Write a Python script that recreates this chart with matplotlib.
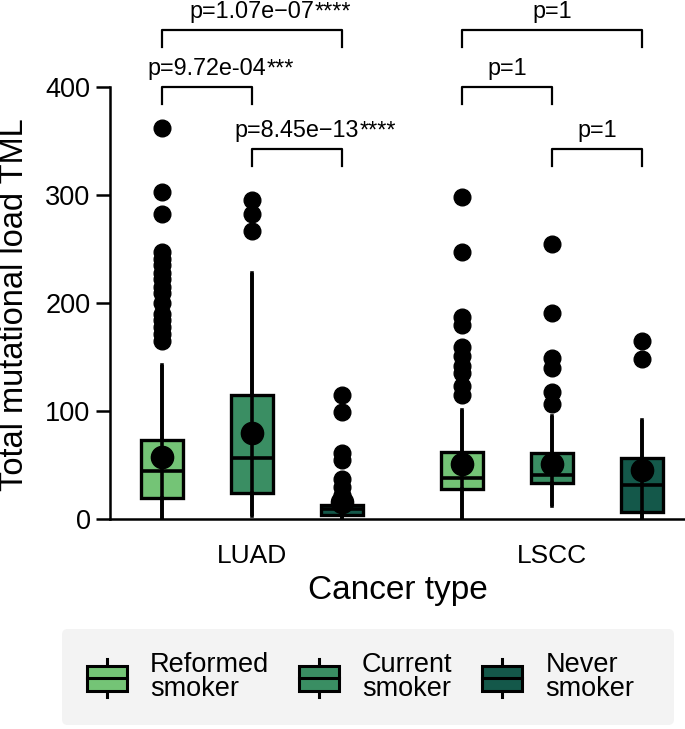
import matplotlib
matplotlib.use("Agg")
import matplotlib.pyplot as plt
from matplotlib.patches import Patch, Rectangle, FancyBboxPatch
from matplotlib.lines import Line2D
from matplotlib.legend_handler import HandlerBase

plt.rcParams['font.family'] = ['Liberation Sans', 'DejaVu Sans']

# data
cancer_types = ["LUAD", "LSCC"]
smoking = ["Reformed\nsmoker", "Current\nsmoker", "Never\nsmoker"]
colors = ["#74c476", "#3a8e63", "#14584a"]

# box stats, one row per cancer type, one entry per smoking group
whis_lo = [[0, 3, 0], [0, 12, 0]]
q1 = [[19, 24, 4], [28, 33, 6]]
med = [[44, 56, 9], [38, 41, 31]]
q3 = [[73, 115, 13], [62, 61, 56]]
whis_hi = [[143, 228, 27], [101, 95, 92]]
means = [[57, 80, 16], [51, 51, 45]]
fliers = [
    [[362, 303, 282, 247, 241, 235, 228, 222, 215, 209, 200, 190, 184, 178, 171, 165],
     [295, 282, 267],
     [115, 99, 61, 55, 37, 30, 22]],
    [[298, 247, 187, 180, 159, 151, 142, 135, 123, 115],
     [255, 191, 149, 140, 118, 106],
     [165, 148]],
]

# comparisons: (cancer idx, group a, group b, bracket height, p text, stars)
comparisons = [
    (0, 0, 1, 400, "p=9.72e-04", "***"),
    (0, 1, 2, 343, "p=8.45e\u221213", "****"),
    (0, 0, 2, 453, "p=1.07e\u221207", "****"),
    (1, 0, 1, 400, "p=1", ""),
    (1, 1, 2, 343, "p=1", ""),
    (1, 0, 2, 453, "p=1", ""),
]

offsets = [-0.3, 0.0, 0.3]


class BoxIconHandler(HandlerBase):
    def create_artists(self, legend, orig_handle, xdescent, ydescent,
                       width, height, fontsize, trans):
        fc = orig_handle.get_facecolor()
        bw, bh = width, height * 0.64
        x0 = -xdescent
        y0 = (height - bh) / 2 - ydescent
        cx = x0 + bw / 2
        whisk = Line2D([cx, cx], [-ydescent, height - ydescent], color="black",
                       lw=2.2, transform=trans)
        box = Rectangle((x0, y0), bw, bh, facecolor=fc, edgecolor="black",
                        lw=2.2, transform=trans)
        mline = Line2D([x0, x0 + bw], [y0 + bh / 2] * 2, color="black",
                       lw=2.2, transform=trans)
        return [whisk, box, mline]


fig = plt.figure(figsize=(6.85, 7.29), dpi=100)
ax = fig.add_axes([0.1606, 0.2881, 0.8394, 0.7119])

for ci in range(len(cancer_types)):
    for si in range(len(smoking)):
        pos = ci + offsets[si]
        st = dict(whislo=whis_lo[ci][si], q1=q1[ci][si], med=med[ci][si],
                  q3=q3[ci][si], whishi=whis_hi[ci][si], mean=means[ci][si],
                  fliers=fliers[ci][si])
        ax.bxp([st], positions=[pos], widths=0.138, patch_artist=True,
               showmeans=True, showcaps=False,
               boxprops=dict(facecolor=colors[si], edgecolor="black", lw=2.4),
               medianprops=dict(color="black", lw=2.6),
               whiskerprops=dict(color="black", lw=2.6),
               meanprops=dict(marker="o", markerfacecolor="black",
                              markeredgecolor="black", markersize=16),
               flierprops=dict(marker="o", markerfacecolor="black",
                               markeredgecolor="black", markersize=12))
        # whisker line runs through the box
        ax.vlines(pos, whis_lo[ci][si], whis_hi[ci][si], color="black",
                  lw=2.6, zorder=2.5)

for ci, a, b, y, ptxt, stars in comparisons:
    xa, xb = ci + offsets[a], ci + offsets[b]
    ax.plot([xa, xa, xb, xb], [y - 16, y, y, y - 16], color="black", lw=1.6,
            clip_on=False)
    t = ax.text((xa + xb) / 2, y + 6, ptxt, ha="center", va="bottom",
                fontsize=16.8)
    if stars:
        ax.annotate(stars, xy=(1, 0), xycoords=t, ha="left", va="bottom",
                    fontsize=16.8)

ax.set_xlim(-0.473, 1.443)
ax.set_ylim(0, 480.5)
ax.set_yticks([0, 100, 200, 300, 400])
ax.set_xticks(range(len(cancer_types)))
ax.set_xticklabels(cancer_types)
ax.tick_params(axis="y", labelsize=19.5, width=1.8, length=10, pad=4)
ax.tick_params(axis="x", labelsize=19, length=0, pad=18)
for s in ["top", "right"]:
    ax.spines[s].set_visible(False)
ax.spines["left"].set_bounds(0, 400)
ax.spines["left"].set_linewidth(1.8)
ax.spines["bottom"].set_linewidth(1.8)
ax.set_xlabel("Cancer type", fontsize=24, labelpad=5)
fig.text(15 / 685, 1 - 305 / 729, "Total mutational load TML", rotation=90,
         ha="center", va="center", fontsize=23.5)

# legend background panel
panel = FancyBboxPatch((62 / 685, 1 - 725 / 729), (674 - 62) / 685,
                       (725 - 629) / 729, boxstyle="round,pad=0,rounding_size=0.008",
                       transform=fig.transFigure, facecolor="#f3f3f3",
                       edgecolor="none", zorder=0)
fig.patches.append(panel)

handles = [Patch(facecolor=c) for c in colors]
leg = fig.legend(handles, smoking, loc="upper left",
                 bbox_to_anchor=(86.7 / 685, 1 - 652 / 729), borderaxespad=0,
                 borderpad=0, ncol=3, fontsize=19.5, frameon=False,
                 handlelength=1.48, handleheight=1.8, handletextpad=0.85,
                 columnspacing=1.1,
                 handler_map={Patch: BoxIconHandler()})
for txt in leg.get_texts():
    txt.set_linespacing(0.9)

fig.savefig("out.png", dpi=100)
